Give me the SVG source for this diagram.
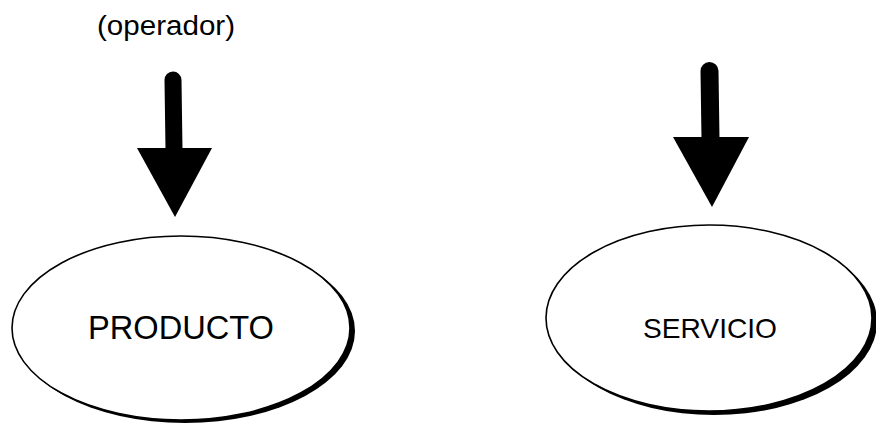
<svg xmlns="http://www.w3.org/2000/svg" width="876" height="431" viewBox="0 0 876 431">
  <style>
    .label { font-family: "Liberation Sans", "DejaVu Sans", sans-serif; fill: #000; }
    .shadow { fill: #000; }
    .face { fill: #fff; stroke: #000; stroke-width: 1.6; }
    .shaft { stroke: #000; stroke-linecap: round; fill: none; }
    .head { fill: #000; }
  </style>
  <rect width="876" height="431" fill="#fff"/>

  <!-- connectors: heavy down arrows -->
  <g id="connectors">
    <g id="arrow-producto">
      <path class="shaft" d="M173 80 L174 150" stroke-width="17"/>
      <polygon class="head" points="137,148 212,148 175,217"/>
    </g>
    <g id="arrow-servicio">
      <path class="shaft" d="M709.5 71 L710.5 139" stroke-width="18"/>
      <polygon class="head" points="673,137 749,137 712,207"/>
    </g>
  </g>

  <!-- input label -->
  <g id="operador">
    <text class="label" x="97" y="35" font-size="27" textLength="138" lengthAdjust="spacingAndGlyphs">(operador)</text>
  </g>

  <!-- nodes: white ellipse over an offset black one for the drop shadow -->
  <g id="producto">
    <ellipse class="shadow" cx="185" cy="331" rx="170" ry="92"/>
    <ellipse class="face" cx="181" cy="328" rx="169" ry="92"/>
    <text class="label" x="88" y="339" font-size="33" textLength="186" lengthAdjust="spacingAndGlyphs">PRODUCTO</text>
  </g>

  <g id="servicio">
    <ellipse class="shadow" cx="714" cy="322" rx="163" ry="93"/>
    <ellipse class="face" cx="709" cy="318" rx="163" ry="93"/>
    <text class="label" x="643" y="338" font-size="28" textLength="134" lengthAdjust="spacingAndGlyphs">SERVICIO</text>
  </g>
</svg>
